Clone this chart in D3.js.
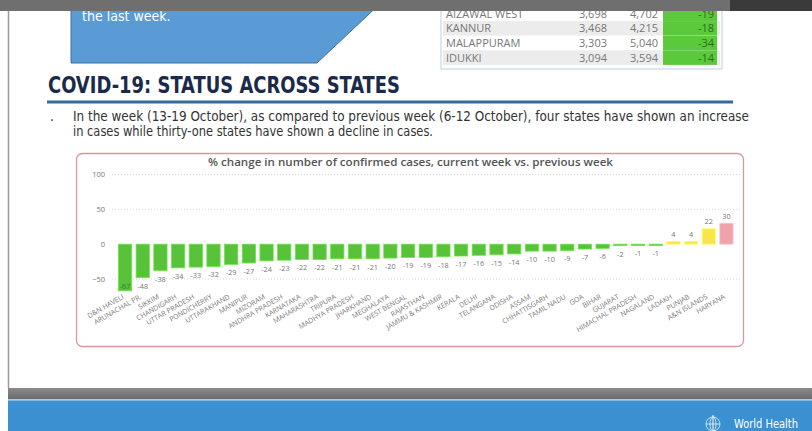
<!DOCTYPE html>
<html>
<head>
<meta charset="utf-8">
<script src="https://cdn.jsdelivr.net/npm/d3@7"></script>
<style>
  html, body { margin: 0; padding: 0; background: #fff; }
  svg { display: block; }
</style>
</head>
<body>
<div id="slide"></div>
<script>
// Slide: COVID-19 status across states (WHO India situation report)

// Chart data
const states = [
    "D&N HAVELI", "ARUNACHAL PR.", "SIKKIM", "CHANDIGARH", "UTTAR PRADESH",
    "PONDICHERRY", "UTTARAKHAND", "MANIPUR", "MIZORAM", "ANDHRA PRADESH",
    "KARNATAKA", "MAHARASHTRA", "TRIPURA", "MADHYA PRADESH", "JHARKHAND",
    "MEGHALAYA", "WEST BENGAL", "RAJASTHAN", "JAMMU & KASHMIR", "KERALA",
    "DELHI", "TELANGANA", "ODISHA", "ASSAM", "CHHATTISGARH",
    "TAMIL NADU", "GOA", "BIHAR", "GUJARAT", "HIMACHAL PRADESH",
    "NAGALAND", "LADAKH", "PUNJAB", "A&N ISLANDS", "HARYANA"
];
const changes = [
    -67, -48, -38, -34, -33,
    -32, -29, -27, -24, -23,
    -22, -22, -21, -21, -21,
    -20, -19, -19, -18, -17,
    -16, -15, -14, -10, -10,
    -9, -7, -6, -2, -1,
    -1, 4, 4, 22, 30
];
const yTicks = [100, 50, 0, -50];

// District table peeking in at the top of the slide
const tableNames = ["AIZAWAL WEST", "KANNUR", "MALAPPURAM", "IDUKKI"];
const tableCurrent = ["3,698", "3,468", "3,303", "3,094"];
const tablePrevious = ["4,702", "4,215", "5,040", "3,594"];
const tableChange = [-19, -18, -34, -14];

const headingText = "COVID-19: STATUS ACROSS STATES";
const bulletLines = [
    "In the week (13-19 October), as compared to previous week (6-12 October), four states have shown an increase",
    "in cases while thirty-one states have shown a decline in cases."
];
const chartTitle = "% change in number of confirmed cases, current week vs. previous week";

const W = 812, H = 431;
const narrow = "'Liberation Sans Narrow', 'DejaVu Sans Condensed', sans-serif";

let svg;

function init() {
    svg = d3.select("#slide")
        .append("svg")
        .attr("width", W)
        .attr("height", H);

    drawCallout();
    drawTable();
    drawHeading();
    drawChart();
    drawFooter();
    drawTopStrip();
}

function drawCallout() {
    // blue box cut off by the top of the screen
    svg.append("polygon")
        .attr("points", "71,0 384,0 317,63 71,63")
        .attr("fill", "#5b9bd5")
        .attr("stroke", "#41719c")
        .attr("stroke-width", 1);

    svg.append("text")
        .attr("x", 82)
        .attr("y", 21)
        .attr("fill", "#fff")
        .style("font", `14px ${narrow}`)
        .text("the last week.");
}

function drawTable() {
    const rowH = 14.6, top = 6.5;
    const t = svg.append("g");

    t.append("rect")
        .attr("x", 441).attr("y", -2)
        .attr("width", 281).attr("height", 71)
        .attr("fill", "#fff")
        .attr("stroke", "#b9cfe2");

    const rows = t.selectAll(".row")
        .data(tableNames)
        .enter()
        .append("g")
        .attr("class", "row")
        .attr("transform", (d, i) => `translate(0,${top + i * rowH})`);

    rows.append("rect")
        .attr("x", 443).attr("width", 277).attr("height", rowH)
        .attr("fill", (d, i) => i % 2 ? "#ececec" : "#fff");

    rows.append("rect")
        .attr("x", 663).attr("width", 54).attr("height", rowH)
        .attr("fill", "#5cc83c");

    const txt = sel => sel
        .attr("y", rowH / 2 + 4)
        .attr("fill", "#777")
        .style("font", "11px 'Open Sans', sans-serif");

    rows.append("text").call(txt).attr("x", 446).text(d => d);
    rows.append("text").call(txt).attr("x", 607).attr("text-anchor", "end")
        .text((d, i) => tableCurrent[i]);
    rows.append("text").call(txt).attr("x", 658).attr("text-anchor", "end")
        .text((d, i) => tablePrevious[i]);
    rows.append("text").call(txt).attr("x", 714).attr("text-anchor", "end")
        .attr("fill", "#2d6e1e")
        .text((d, i) => tableChange[i]);
}

function drawHeading() {
    svg.append("text")
        .attr("x", 48)
        .attr("y", 93)
        .attr("fill", "#1b2a4a")
        .attr("textLength", 352)
        .attr("lengthAdjust", "spacingAndGlyphs")
        .style("font", `bold 23px ${narrow}`)
        .text(headingText);

    svg.append("rect")
        .attr("x", 47).attr("y", 100.5)
        .attr("width", 686).attr("height", 3)
        .attr("fill", "#336a9b");

    svg.append("text")
        .attr("x", 50).attr("y", 121)
        .attr("fill", "#333")
        .style("font", `14px ${narrow}`)
        .text(".");

    const lens = [676, 360];
    svg.selectAll(".bullet")
        .data(bulletLines)
        .enter()
        .append("text")
        .attr("class", "bullet")
        .attr("x", 73)
        .attr("y", (d, i) => 121 + i * 15)
        .attr("fill", "#333")
        .attr("textLength", (d, i) => lens[i])
        .attr("lengthAdjust", "spacingAndGlyphs")
        .style("font", `14px ${narrow}`)
        .text(d => d);
}

function barColor(v) {
    if (v < 0) return "#57c23a";
    if (v <= 25) return "#f7e54c";
    return "#f0a3ab";
}

function drawChart() {
    const g = svg.append("g");

    // card
    g.append("rect")
        .attr("x", 76.5).attr("y", 153.5)
        .attr("width", 667).attr("height", 193)
        .attr("rx", 6)
        .attr("fill", "#fff")
        .attr("stroke", "#d69a9a")
        .attr("stroke-width", 1.3);

    g.append("text")
        .attr("x", 208)
        .attr("y", 165.5)
        .attr("fill", "#555")
        .attr("textLength", 405)
        .attr("lengthAdjust", "spacingAndGlyphs")
        .style("font", "600 10.5px 'Open Sans', sans-serif")
        .text(chartTitle);

    const x = d3.scaleBand()
        .domain(states)
        .range([114, 737.5])
        .paddingInner(0.25)
        .paddingOuter(0.25);

    const y = d3.scaleLinear()
        .domain([-75, 100])
        .range([296.4, 174.5]);

    // dotted gridlines
    g.selectAll(".grid")
        .data(yTicks.filter(t => t !== 0))
        .enter()
        .append("line")
        .attr("class", "grid")
        .attr("x1", 112).attr("x2", 741)
        .attr("y1", d => y(d)).attr("y2", d => y(d))
        .attr("stroke", "#d4d4d4")
        .attr("stroke-dasharray", "1,2");

    const yAxis = g.append("g")
        .attr("transform", "translate(105,0)")
        .call(d3.axisLeft(y).tickValues(yTicks).tickSize(0).tickPadding(0));
    yAxis.select(".domain").remove();
    yAxis.selectAll("text")
        .attr("fill", "#777")
        .style("font", "7.5px 'Open Sans', sans-serif");

    // bars
    g.selectAll(".bar")
        .data(changes)
        .enter()
        .append("rect")
        .attr("class", "bar")
        .attr("x", (d, i) => x(states[i]))
        .attr("width", x.bandwidth())
        .attr("y", d => d >= 0 ? y(d) : y(0))
        .attr("height", d => Math.max(1.5, Math.abs(y(d) - y(0))))
        .attr("fill", d => barColor(d))
        .attr("stroke", d => d3.color(barColor(d)).brighter(0.5))
        .attr("stroke-width", 0.8);

    // value labels
    g.selectAll(".value")
        .data(changes)
        .enter()
        .append("text")
        .attr("class", "value")
        .attr("x", (d, i) => x(states[i]) + x.bandwidth() / 2)
        .attr("y", d => {
            if (d >= 0) return y(d) - 4.5;
            const below = y(d) + 11;
            return below > 294 ? y(d) - 2 : below;
        })
        .attr("text-anchor", "middle")
        .attr("fill", d => (d < 0 && y(d) + 11 > 294) ? "#3d7a2a" : "#777")
        .style("font", "7.3px 'Open Sans', sans-serif")
        .text(d => d);

    // rotated category labels
    g.selectAll(".cat")
        .data(states)
        .enter()
        .append("text")
        .attr("class", "cat")
        .attr("transform", d => `translate(${x(d) + x.bandwidth() / 2 - 2},296) rotate(-30)`)
        .attr("dy", "0.35em")
        .attr("text-anchor", "end")
        .attr("fill", "#777")
        .style("font", "7px 'Open Sans', sans-serif")
        .text(d => d);
}

function drawFooter() {
    // left edge of the slide window
    svg.append("line")
        .attr("x1", 8.5).attr("x2", 8.5)
        .attr("y1", 0).attr("y2", 388)
        .attr("stroke", "#9a9a9a")
        .attr("stroke-width", 1.5);

    const grad = svg.append("defs").append("linearGradient")
        .attr("id", "band")
        .attr("x1", 0).attr("y1", 0).attr("x2", 0).attr("y2", 1);
    grad.append("stop").attr("offset", "0%").attr("stop-color", "#8a8a8a");
    grad.append("stop").attr("offset", "100%").attr("stop-color", "#6c6c6c");

    svg.append("rect")
        .attr("x", 8).attr("y", 388)
        .attr("width", W - 8).attr("height", 11)
        .attr("fill", "url(#band)");
    svg.append("rect")
        .attr("x", 8).attr("y", 399)
        .attr("width", W - 8).attr("height", 1.5)
        .attr("fill", "#a9cdea");
    svg.append("rect")
        .attr("x", 8).attr("y", 400.5)
        .attr("width", W - 8).attr("height", H - 400.5)
        .attr("fill", "#3a90d0");

    // WHO emblem, roughly
    const logo = svg.append("g")
        .attr("transform", "translate(713,424)")
        .attr("fill", "none")
        .attr("stroke", "#e8f2fa")
        .attr("stroke-opacity", 0.8);
    logo.append("circle").attr("r", 7);
    logo.append("ellipse").attr("rx", 3).attr("ry", 7);
    logo.append("line").attr("x1", -7).attr("x2", 7);
    logo.append("line").attr("y1", -9).attr("y2", 8).attr("stroke-width", 1.4);

    svg.append("text")
        .attr("x", 734)
        .attr("y", 428)
        .attr("fill", "#fff")
        .attr("textLength", 64)
        .attr("lengthAdjust", "spacingAndGlyphs")
        .style("font", `12px ${narrow}`)
        .text("World Health");
}

function drawTopStrip() {
    svg.append("rect")
        .attr("x", 0).attr("y", 0)
        .attr("width", W).attr("height", 11)
        .attr("fill", "#6f6f6f");
    svg.append("rect")
        .attr("x", 730).attr("y", 0)
        .attr("width", W - 730).attr("height", 11)
        .attr("fill", "#3a3a3a");
}

init();
</script>
</body>
</html>
